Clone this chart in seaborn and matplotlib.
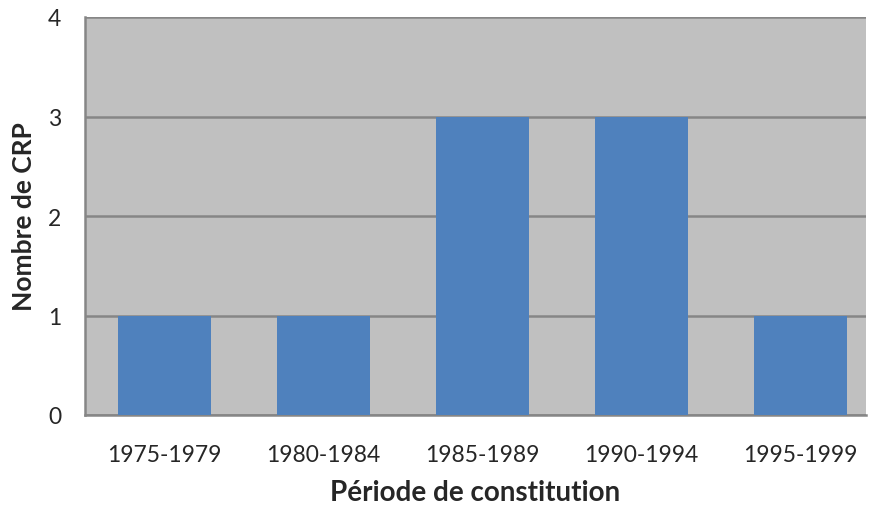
import numpy as np
import pandas as pd
import matplotlib
matplotlib.use("Agg")
import matplotlib.pyplot as plt
import seaborn as sns

# data
periods = ["1975-1979", "1980-1984", "1985-1989", "1990-1994", "1995-1999"]
counts = [1, 1, 3, 3, 1]

df = pd.DataFrame({"periode": periods, "nombre": counts})

sns.set_style("white")
plt.rcParams["font.family"] = ["Lato", "DejaVu Sans"]

fig = plt.figure(figsize=(8.69, 5.06), dpi=100)
# plot area runs slightly past the right edge of the picture in the original
ax = fig.add_axes([85 / 869, 90 / 506, 781 / 869, 398 / 506])
ax.set_facecolor("#C0C0C0")

sns.barplot(data=df, x="periode", y="nombre", color="#4F81BD", width=0.585,
            saturation=1, linewidth=0, ax=ax, zorder=3)

ax.set_yticks(range(0, 5))
ax.set_ylim(0, 4)

# gridlines
ax.yaxis.grid(True, color="#868686", linewidth=1.8, zorder=1)
ax.set_axisbelow(True)

# spines
for s in ["top", "right"]:
    ax.spines[s].set_visible(False)
for s in ["left", "bottom"]:
    ax.spines[s].set_color("#868686")
    ax.spines[s].set_linewidth(1.8)

# tick marks at category boundaries on x, labels at centres
ax.set_xticks(np.arange(-0.5, len(periods), 1.0), minor=True)
ax.set_xlim(-0.5, -0.5 + 781 / 159)
ax.tick_params(axis="x", which="major", length=0, labelsize=16.5, pad=21)
ax.tick_params(axis="x", which="minor", length=7, width=1.5, color="#868686")
ax.tick_params(axis="y", length=8, width=1.5, color="#868686", labelsize=16.5, pad=9)

ax.set_xlabel("Période de constitution", fontsize=20, fontweight="bold", labelpad=10)
ax.set_ylabel("Nombre de CRP", fontsize=19, fontweight="bold", labelpad=9)

fig.savefig("out.png", dpi=100)
